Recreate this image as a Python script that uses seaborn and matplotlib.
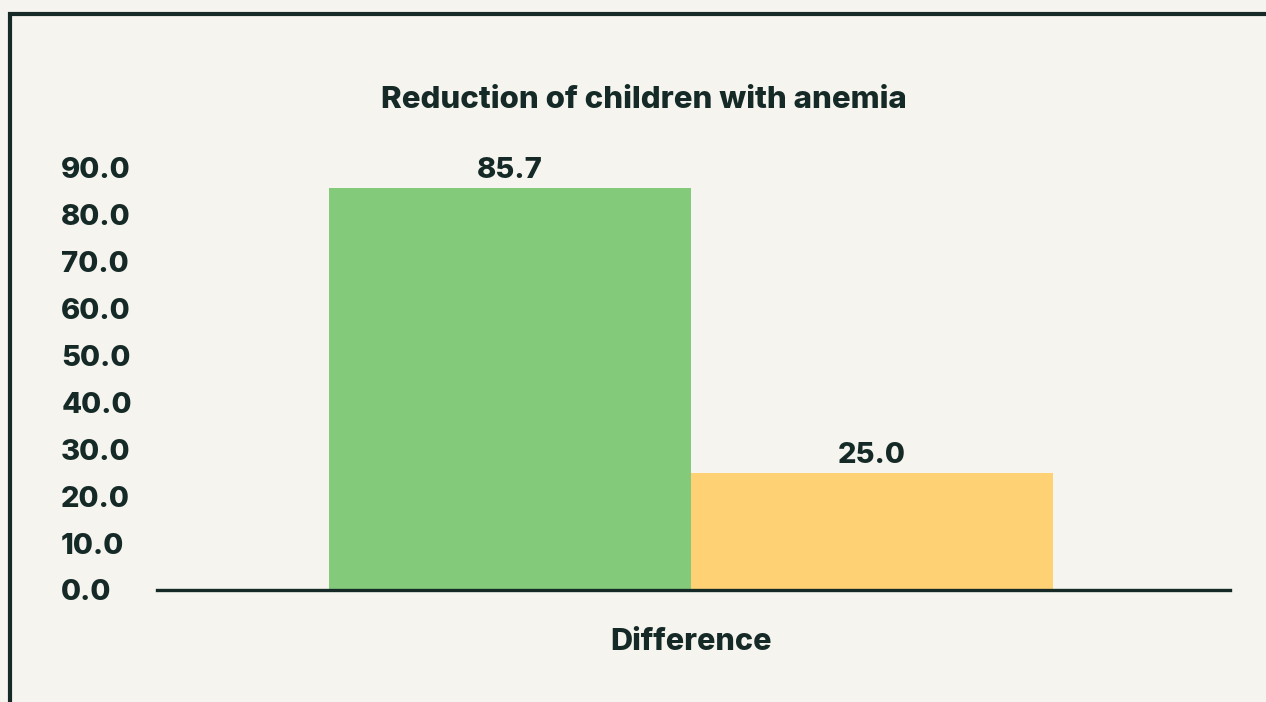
import matplotlib
matplotlib.use("Agg")
import matplotlib.pyplot as plt
from matplotlib.lines import Line2D
from matplotlib import font_manager
import seaborn as sns
import pandas as pd

categories = ["Difference"]
series = ["Group A", "Group B"]
values = [85.7, 25.0]
yticks = [0, 10, 20, 30, 40, 50, 60, 70, 80, 90]
title = "Reduction of children with anemia"

BG = "#f5f4ef"
INK = "#152a26"
colors = ["#83cb7b", "#fed274"]

sns.set_theme(style="white")
plt.rcParams["font.family"] = ["Inter", "DejaVu Sans"]
WT = 800
plt.rcParams["font.weight"] = WT

inter = sorted({(f.name, f.weight, f.style) for f in font_manager.fontManager.ttflist if "Inter" in f.name})
print(inter)

df = pd.DataFrame({"category": [categories[0]] * len(series), "series": series, "value": values})

W, H = 1266, 702
fig = plt.figure(figsize=(W / 100, H / 100), dpi=100, facecolor=BG)
ax = fig.add_axes([157 / W, 1 - 590 / H, (1230 - 157) / W, (590 - 168) / H])
ax.set_facecolor(BG)

sns.barplot(data=df, x="category", y="value", hue="series", palette=colors,
            width=0.675, saturation=1, legend=False, ax=ax, edgecolor="none")

ax.set_ylim(0, 90)
ax.set_xlim(-0.4977, 0.5023)
ax.set_yticks(yticks)
ax.set_yticklabels([f"{v:.1f}" for v in yticks])
ax.tick_params(axis="y", length=0, pad=69, labelsize=21, labelcolor=INK)
for lab in ax.get_yticklabels():
    lab.set_ha("left")
    lab.set_fontweight(WT)
ax.tick_params(axis="x", length=0, pad=27, labelsize=22, labelcolor=INK)
for lab in ax.get_xticklabels():
    lab.set_fontweight(WT)
ax.set_xlabel("")
ax.set_ylabel("")

for s in ["top", "right", "left"]:
    ax.spines[s].set_visible(False)
ax.spines["bottom"].set_color(INK)
ax.spines["bottom"].set_linewidth(2.4)

for cont in ax.containers:
    ax.bar_label(cont, fmt="%.1f", padding=3, fontsize=21, fontweight=WT, color=INK)

fig.text(644 / W, 1 - 100 / H, title, ha="center", va="center",
         fontsize=22.5, fontweight=WT, color=INK)

# frame lines (top and left)
fig.add_artist(Line2D([8 / W, 1.0], [1 - 14 / H, 1 - 14 / H], color=INK, lw=3,
                      solid_capstyle="butt", transform=fig.transFigure))
fig.add_artist(Line2D([10 / W, 10 / W], [1 - 12 / H, 0.0], color=INK, lw=3,
                      solid_capstyle="butt", transform=fig.transFigure))

fig.savefig("out.png", dpi=100, facecolor=BG)
